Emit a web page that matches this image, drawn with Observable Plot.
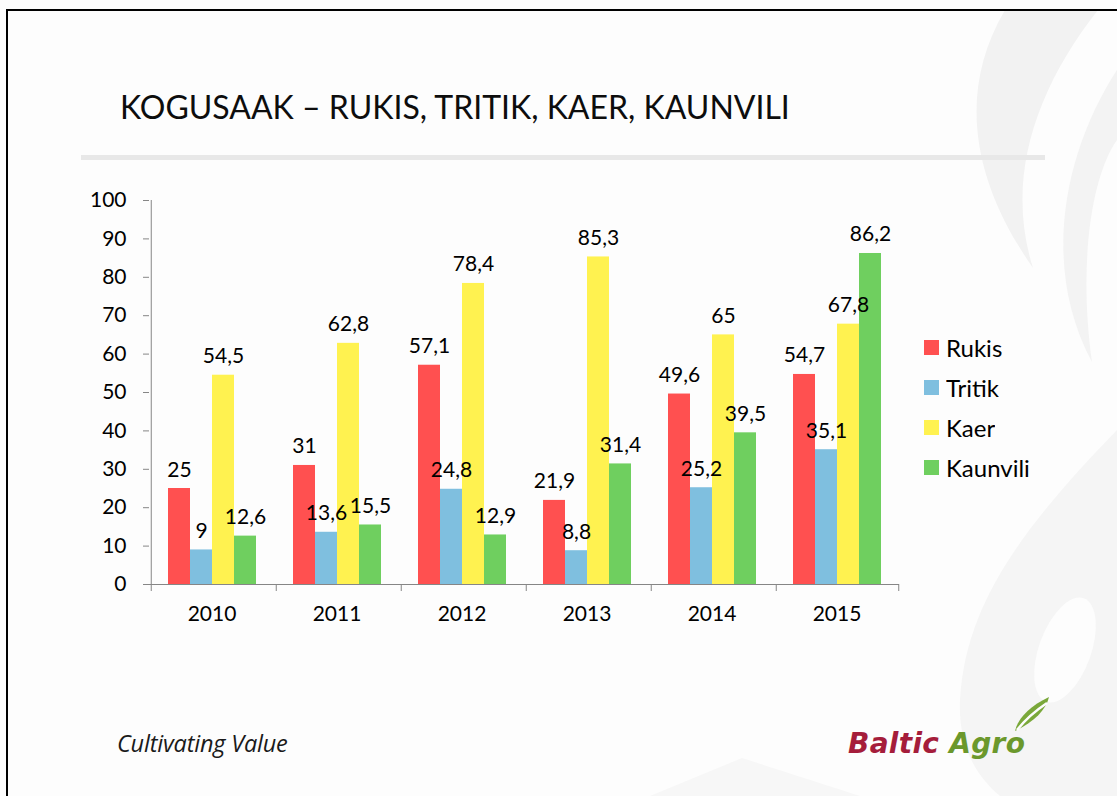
<!DOCTYPE html>
<html>
<head>
<meta charset="utf-8">
<script src="https://cdn.jsdelivr.net/npm/d3@7"></script>
<script src="https://cdn.jsdelivr.net/npm/@observablehq/plot@0.6"></script>
<style>
  html, body { margin: 0; padding: 0; background: #ffffff; overflow: hidden; }
  #page { position: relative; width: 1117px; height: 796px; overflow: hidden; background: #fdfdfd; font-family: Lato, "Open Sans", sans-serif; }
  #border { position: absolute; left: 6px; top: 9px; width: 1300px; height: 1000px; border: 2px solid #000; box-sizing: border-box; }
  #bg { position: absolute; left: 0; top: 0; }
  #title { position: absolute; left: 120px; top: 91px; font-size: 32px; line-height: 1; color: #0d0d0d; white-space: nowrap; }
  #rule { position: absolute; left: 81px; top: 155px; width: 964px; height: 5px; background: #e8e8e8; }
  #chart { position: absolute; left: 80px; top: 180px; }
  #legend { position: absolute; left: 924px; top: 327px; }
  #legend .lg-swatch { height: 40px !important; padding: 0 !important; margin: 0 !important; display: flex !important; align-items: center !important; font-size: 24px; color: #000; }
  #legend .lg-swatch svg { margin-right: 7px !important; }
  #tagline { position: absolute; left: 117px; top: 732px; font-family: "Open Sans", sans-serif; font-size: 23.5px; font-style: italic; line-height: 1; color: #1a1a1a; letter-spacing: -0.2px; }
  #logo { position: absolute; left: 848px; top: 730px; font-family: "DejaVu Sans", sans-serif; font-size: 28px; font-weight: bold; font-style: italic; line-height: 1; letter-spacing: 0.3px; white-space: nowrap; }
  #logo .b { color: #a51d3b; }
  #logo .a { color: #6b982c; }
  #leaf { position: absolute; left: 1012px; top: 694px; }
</style>
</head>
<body>
<div id="page">
  <svg id="bg" width="1117" height="796">
    <path d="M1005,10 C955,95 975,185 1033,268 C1005,180 1035,90 1098,10 Z" fill="#f2f2f2"/>
    <path d="M1117,70 C1065,150 1040,265 1092,362 C1078,262 1092,175 1117,140 Z" fill="#f3f3f3"/>
    <path d="M1117,430 C1030,520 965,600 960,700 C958,745 975,775 1000,796 L1117,796 Z" fill="#f5f5f5"/>
    <ellipse cx="1065" cy="650" rx="26" ry="55" transform="rotate(20 1065 650)" fill="#fdfdfd"/>
    <path d="M650,796 L742,758 L860,796 Z" fill="#f7f7f7"/>
  </svg>
  <div id="border"></div>
  <div id="title">KOGUSAAK – RUKIS, TRITIK, KAER, KAUNVILI</div>
  <div id="rule"></div>
  <div id="chart"></div>
  <div id="legend"></div>
  <div id="tagline">Cultivating Value</div>
  <svg id="leaf" width="40" height="40" viewBox="0 0 40 40">
    <path d="M3,37 C6,24 18,12 37,3 C34,16 22,28 3,37 Z" fill="#7aa83a"/>
    <path d="M5,36 C13,26 23,17 35,9" stroke="#fdfdfd" stroke-width="2.5" fill="none"/>
  </svg>
  <div id="logo"><span class="b">Baltic</span> <span class="a">Agro</span></div>
</div>
<script>
const years = ["2010", "2011", "2012", "2013", "2014", "2015"];
const series = ["Rukis", "Tritik", "Kaer", "Kaunvili"];
const rukis = [25, 31, 57.1, 21.9, 49.6, 54.7];
const tritik = [9, 13.6, 24.8, 8.8, 25.2, 35.1];
const kaer = [54.5, 62.8, 78.4, 85.3, 65, 67.8];
const kaunvili = [12.6, 15.5, 12.9, 31.4, 39.5, 86.2];
const colors = ["#ff5050", "#7fbfdf", "#fff250", "#6fcf5f"];
const yTicks = [0, 10, 20, 30, 40, 50, 60, 70, 80, 90, 100];

const seriesValues = [rukis, tritik, kaer, kaunvili];
const rows = years.flatMap((yr, i) => series.map((s, j) => ({year: yr, series: s, value: seriesValues[j][i]})));
const fmt = v => String(v).replace(".", ",");

const W = 840, H = 454, mL = 67, mR = 20, mT = 20, mB = 50;
const pOuter = 0.728;
const facetW = (W - mL - mR) / years.length;
const step = facetW / (series.length + 2 * pOuter);
const edge = step * pOuter + step / 2; // band centre to facet edge
const axisGray = "#868686";

const chart = Plot.plot({
  width: W, height: H,
  marginLeft: mL, marginRight: mR, marginTop: mT, marginBottom: mB,
  style: {fontFamily: "Lato, 'Open Sans', sans-serif", fontSize: "21px", color: "#000", background: "transparent"},
  fx: {domain: years, padding: 0, label: null, axis: "bottom", tickSize: 0, tickPadding: 22},
  x: {domain: series, paddingInner: 0, paddingOuter: pOuter, axis: null},
  y: {domain: [0, 100], label: null},
  color: {domain: series, range: colors},
  marks: [
    Plot.barY(rows, {fx: "year", x: "series", y: "value", fill: "series"}),
    Plot.ruleY([0], {stroke: axisGray}),
    Plot.ruleX([years[0]], {fx: d => d, x: () => series[0], y1: 0, y2: 100, dx: -edge, stroke: axisGray}),
    Plot.ruleX(years, {fx: d => d, x: () => series[0], y1: 0, y2: 0, insetBottom: -7, dx: -edge, stroke: axisGray}),
    Plot.ruleX([years[years.length - 1]], {fx: d => d, x: () => series[series.length - 1], y1: 0, y2: 0, insetBottom: -7, dx: edge, stroke: axisGray}),
    Plot.axisY({ticks: yTicks, tickSize: 6, tickPadding: 17, stroke: axisGray, fill: "#000", label: null}),
    Plot.text(rows, {fx: "year", x: "series", y: "value", text: d => fmt(d.value), lineAnchor: "bottom", dy: -12, fontSize: 21, fill: "#000"})
  ]
});
document.getElementById("chart").appendChild(chart);

const legend = Plot.legend({
  color: {domain: series, range: colors},
  legend: "swatches",
  columns: 1,
  swatchSize: 15,
  className: "lg",
  style: {fontFamily: "Lato, 'Open Sans', sans-serif", fontSize: "24px", color: "#000", margin: "0"}
});
document.getElementById("legend").appendChild(legend);
</script>
</body>
</html>
